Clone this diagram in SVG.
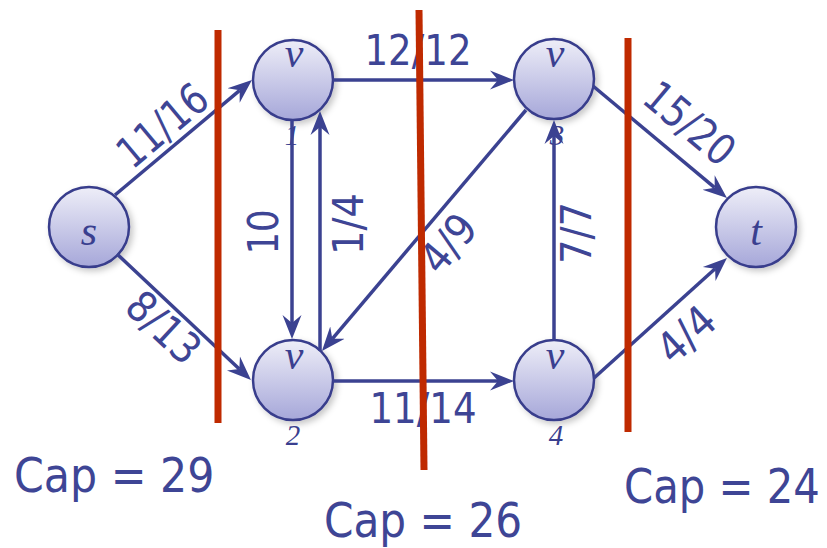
<svg xmlns="http://www.w3.org/2000/svg" width="827" height="548" viewBox="0 0 827 548">
<defs>
<linearGradient id="nodeFill" x1="0" y1="0" x2="0" y2="1">
<stop offset="0" stop-color="#eeeef8"/>
<stop offset="1" stop-color="#a6a7d9"/>
</linearGradient>
<filter id="shadow" x="-30%" y="-30%" width="160%" height="160%">
<feDropShadow dx="3" dy="3" stdDeviation="3" flood-color="#000" flood-opacity="0.22"/>
</filter>
<marker id="arrow" markerUnits="userSpaceOnUse" markerWidth="28" markerHeight="22" viewBox="0 -11 28 22" refX="8" refY="0" orient="auto">
<path d="M0,-9.5 L24,0 L0,9.5 L8,0 Z" fill="#3b4291"/>
</marker>
</defs>
<style>
.node circle { fill: url(#nodeFill); stroke: #383d8c; stroke-width: 2.5; filter: url(#shadow); }
.nl { font-family: "Liberation Serif", "Times New Roman", serif; font-style: italic; fill: #3a3f8f; font-size: 42px; text-anchor: middle; }
.sub { font-family: "Liberation Serif", "Times New Roman", serif; font-style: italic; fill: #3a3f8f; font-size: 29px; text-anchor: middle; }
.edge { stroke: #3b4291; stroke-width: 3.5; fill: none; marker-end: url(#arrow); }
.el { font-family: "DejaVu Sans", "Liberation Sans", sans-serif; font-size: 43px; fill: #3e4595; text-anchor: middle; }
.cap { font-family: "DejaVu Sans", "Liberation Sans", sans-serif; font-size: 48px; fill: #3e4595; }
.cut { stroke: #bf2a00; stroke-width: 7; }
</style>
<rect width="827" height="548" fill="#ffffff"/>

<g id="node-s" class="node">
<circle cx="89" cy="227" r="40"/>
<text class="nl" x="89" y="245">s</text>
</g>
<g id="node-v1" class="node">
<circle cx="293" cy="80" r="40"/>
<text class="nl" x="294" y="67">v</text>
<text class="sub" x="292" y="145">1</text>
</g>
<g id="node-v2" class="node">
<circle cx="293" cy="380" r="40"/>
<text class="nl" x="294" y="369">v</text>
<text class="sub" x="293" y="445">2</text>
</g>
<g id="node-v3" class="node">
<circle cx="554" cy="79" r="40"/>
<text class="nl" x="555" y="67">v</text>
<text class="sub" x="557" y="145">3</text>
</g>
<g id="node-v4" class="node">
<circle cx="554" cy="380" r="40"/>
<text class="nl" x="555" y="369">v</text>
<text class="sub" x="556" y="445">4</text>
</g>
<g id="node-t" class="node">
<circle cx="756" cy="227" r="40"/>
<text class="nl" x="756" y="245">t</text>
</g>

<g id="connectors">
<line class="edge" x1="115" y1="195" x2="239.7" y2="90.3"/>
<line class="edge" x1="117" y1="254" x2="239.3" y2="369"/>
<line class="edge" x1="333" y1="80" x2="498" y2="80"/>
<line class="edge" x1="292" y1="120" x2="292" y2="323"/>
<line class="edge" x1="320" y1="351" x2="320" y2="127"/>
<line class="edge" x1="526" y1="110" x2="332.3" y2="338.8"/>
<line class="edge" x1="333" y1="381" x2="498" y2="381"/>
<line class="edge" x1="554" y1="340" x2="554" y2="136"/>
<line class="edge" x1="593" y1="86" x2="714.7" y2="187.7"/>
<line class="edge" x1="594" y1="378" x2="715.1" y2="268.7"/>
</g>

<g id="edge-labels">
<text class="el" transform="translate(162,125) rotate(-40)" y="15.5" textLength="104" lengthAdjust="spacingAndGlyphs">11/16</text>
<text class="el" transform="translate(164,327) rotate(43)" y="15.5" textLength="84" lengthAdjust="spacingAndGlyphs">8/13</text>
<text class="el" x="418" y="65" textLength="107" lengthAdjust="spacingAndGlyphs">12/12</text>
<text class="el" x="423" y="423" textLength="107" lengthAdjust="spacingAndGlyphs">11/14</text>
<text class="el" transform="translate(262,232) rotate(-90)" y="15.5" textLength="45" lengthAdjust="spacingAndGlyphs">10</text>
<text class="el" transform="translate(347,224) rotate(-90)" y="15.5" textLength="62" lengthAdjust="spacingAndGlyphs">1/4</text>
<text class="el" transform="translate(448,243) rotate(-50)" y="15.5" textLength="62" lengthAdjust="spacingAndGlyphs">4/9</text>
<text class="el" transform="translate(575,233) rotate(-90)" y="15.5" textLength="62" lengthAdjust="spacingAndGlyphs">7/7</text>
<text class="el" transform="translate(690,123) rotate(40)" y="15.5" textLength="104" lengthAdjust="spacingAndGlyphs">15/20</text>
<text class="el" transform="translate(686,334) rotate(-42)" y="15.5" textLength="62" lengthAdjust="spacingAndGlyphs">4/4</text>
</g>

<g id="cuts">
<line class="cut" x1="218" y1="30" x2="218" y2="423"/>
<line class="cut" x1="419" y1="10" x2="424" y2="470"/>
<line class="cut" x1="628" y1="38" x2="628" y2="432"/>
</g>

<g id="cap-labels">
<text class="cap" transform="translate(14,492) scale(0.89,1)">Cap = 29</text>
<text class="cap" transform="translate(324,537) scale(0.88,1)">Cap = 26</text>
<text class="cap" transform="translate(624,503) scale(0.87,1)">Cap = 24</text>
</g>
</svg>
